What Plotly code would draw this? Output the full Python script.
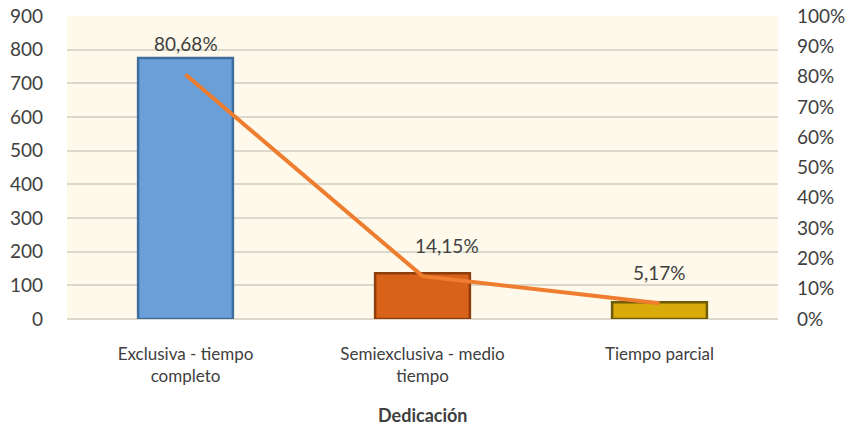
import plotly.graph_objects as go

categorias = ["Exclusiva - tiempo<br>completo", "Semiexclusiva - medio<br>tiempo", "Tiempo parcial"]
docentes = [775, 136, 50]
porcentaje = [0.8068, 0.1415, 0.0517]
etiquetas = ["80,68%", "14,15%", "5,17%"]

colores = ["#6A9FD8", "#D9621A", "#D8AA0A"]
bordes = ["#3F6E9E", "#8E3D0C", "#6E5A08"]

fig = go.Figure()

fig.add_trace(go.Bar(
    x=categorias, y=docentes, width=0.4,
    marker=dict(color=colores, line=dict(color=bordes, width=2.5)),
    showlegend=False, hoverinfo="skip"
))

fig.add_trace(go.Scatter(
    x=categorias, y=porcentaje, yaxis="y2", mode="lines",
    line=dict(color="#EE7D2F", width=4), showlegend=False, hoverinfo="skip"
))

# etiquetas de datos de la línea
xshift = [0, 24, 0]
for c, p, t, dx in zip(categorias, porcentaje, etiquetas, xshift):
    fig.add_annotation(x=c, y=p, yref="y2", text=t, showarrow=False,
                       yshift=31, xshift=dx, font=dict(size=19, color="#404040"))

# título del eje x
fig.add_annotation(x=0.5, y=0, xref="paper", yref="paper", text="<b>Dedicación</b>",
                   showarrow=False, yanchor="middle", yshift=-96,
                   font=dict(size=18, color="#404040"))

fig.update_layout(
    width=856, height=429,
    margin=dict(l=67, r=78, t=16, b=110),
    paper_bgcolor="white", plot_bgcolor="#FEF9EA",
    font=dict(family="Lato, Open Sans, sans-serif", size=18, color="#404040"),
    xaxis=dict(showgrid=False, showline=False, ticks="", tickfont=dict(size=17),
               automargin=False, ticklabelstandoff=23),
    yaxis=dict(range=[0, 900], dtick=100, showgrid=True, gridcolor="#DCD8CC",
               gridwidth=1.5, zeroline=True, zerolinecolor="#DCD8CC", zerolinewidth=1.5,
               ticks="", tickfont=dict(size=19), ticklabelstandoff=23, automargin=False,
               ticklabeloverflow="allow"),
    yaxis2=dict(range=[0, 1], dtick=0.1, tickformat=".0%", overlaying="y", side="right",
                showgrid=False, zeroline=False, ticks="", tickfont=dict(size=19),
                ticklabelstandoff=18, automargin=False, ticklabeloverflow="allow"),
    bargap=0.6,
)

fig.write_html("out.html", config={"displayModeBar": False},
               post_script="document.body.style.margin='0';")
